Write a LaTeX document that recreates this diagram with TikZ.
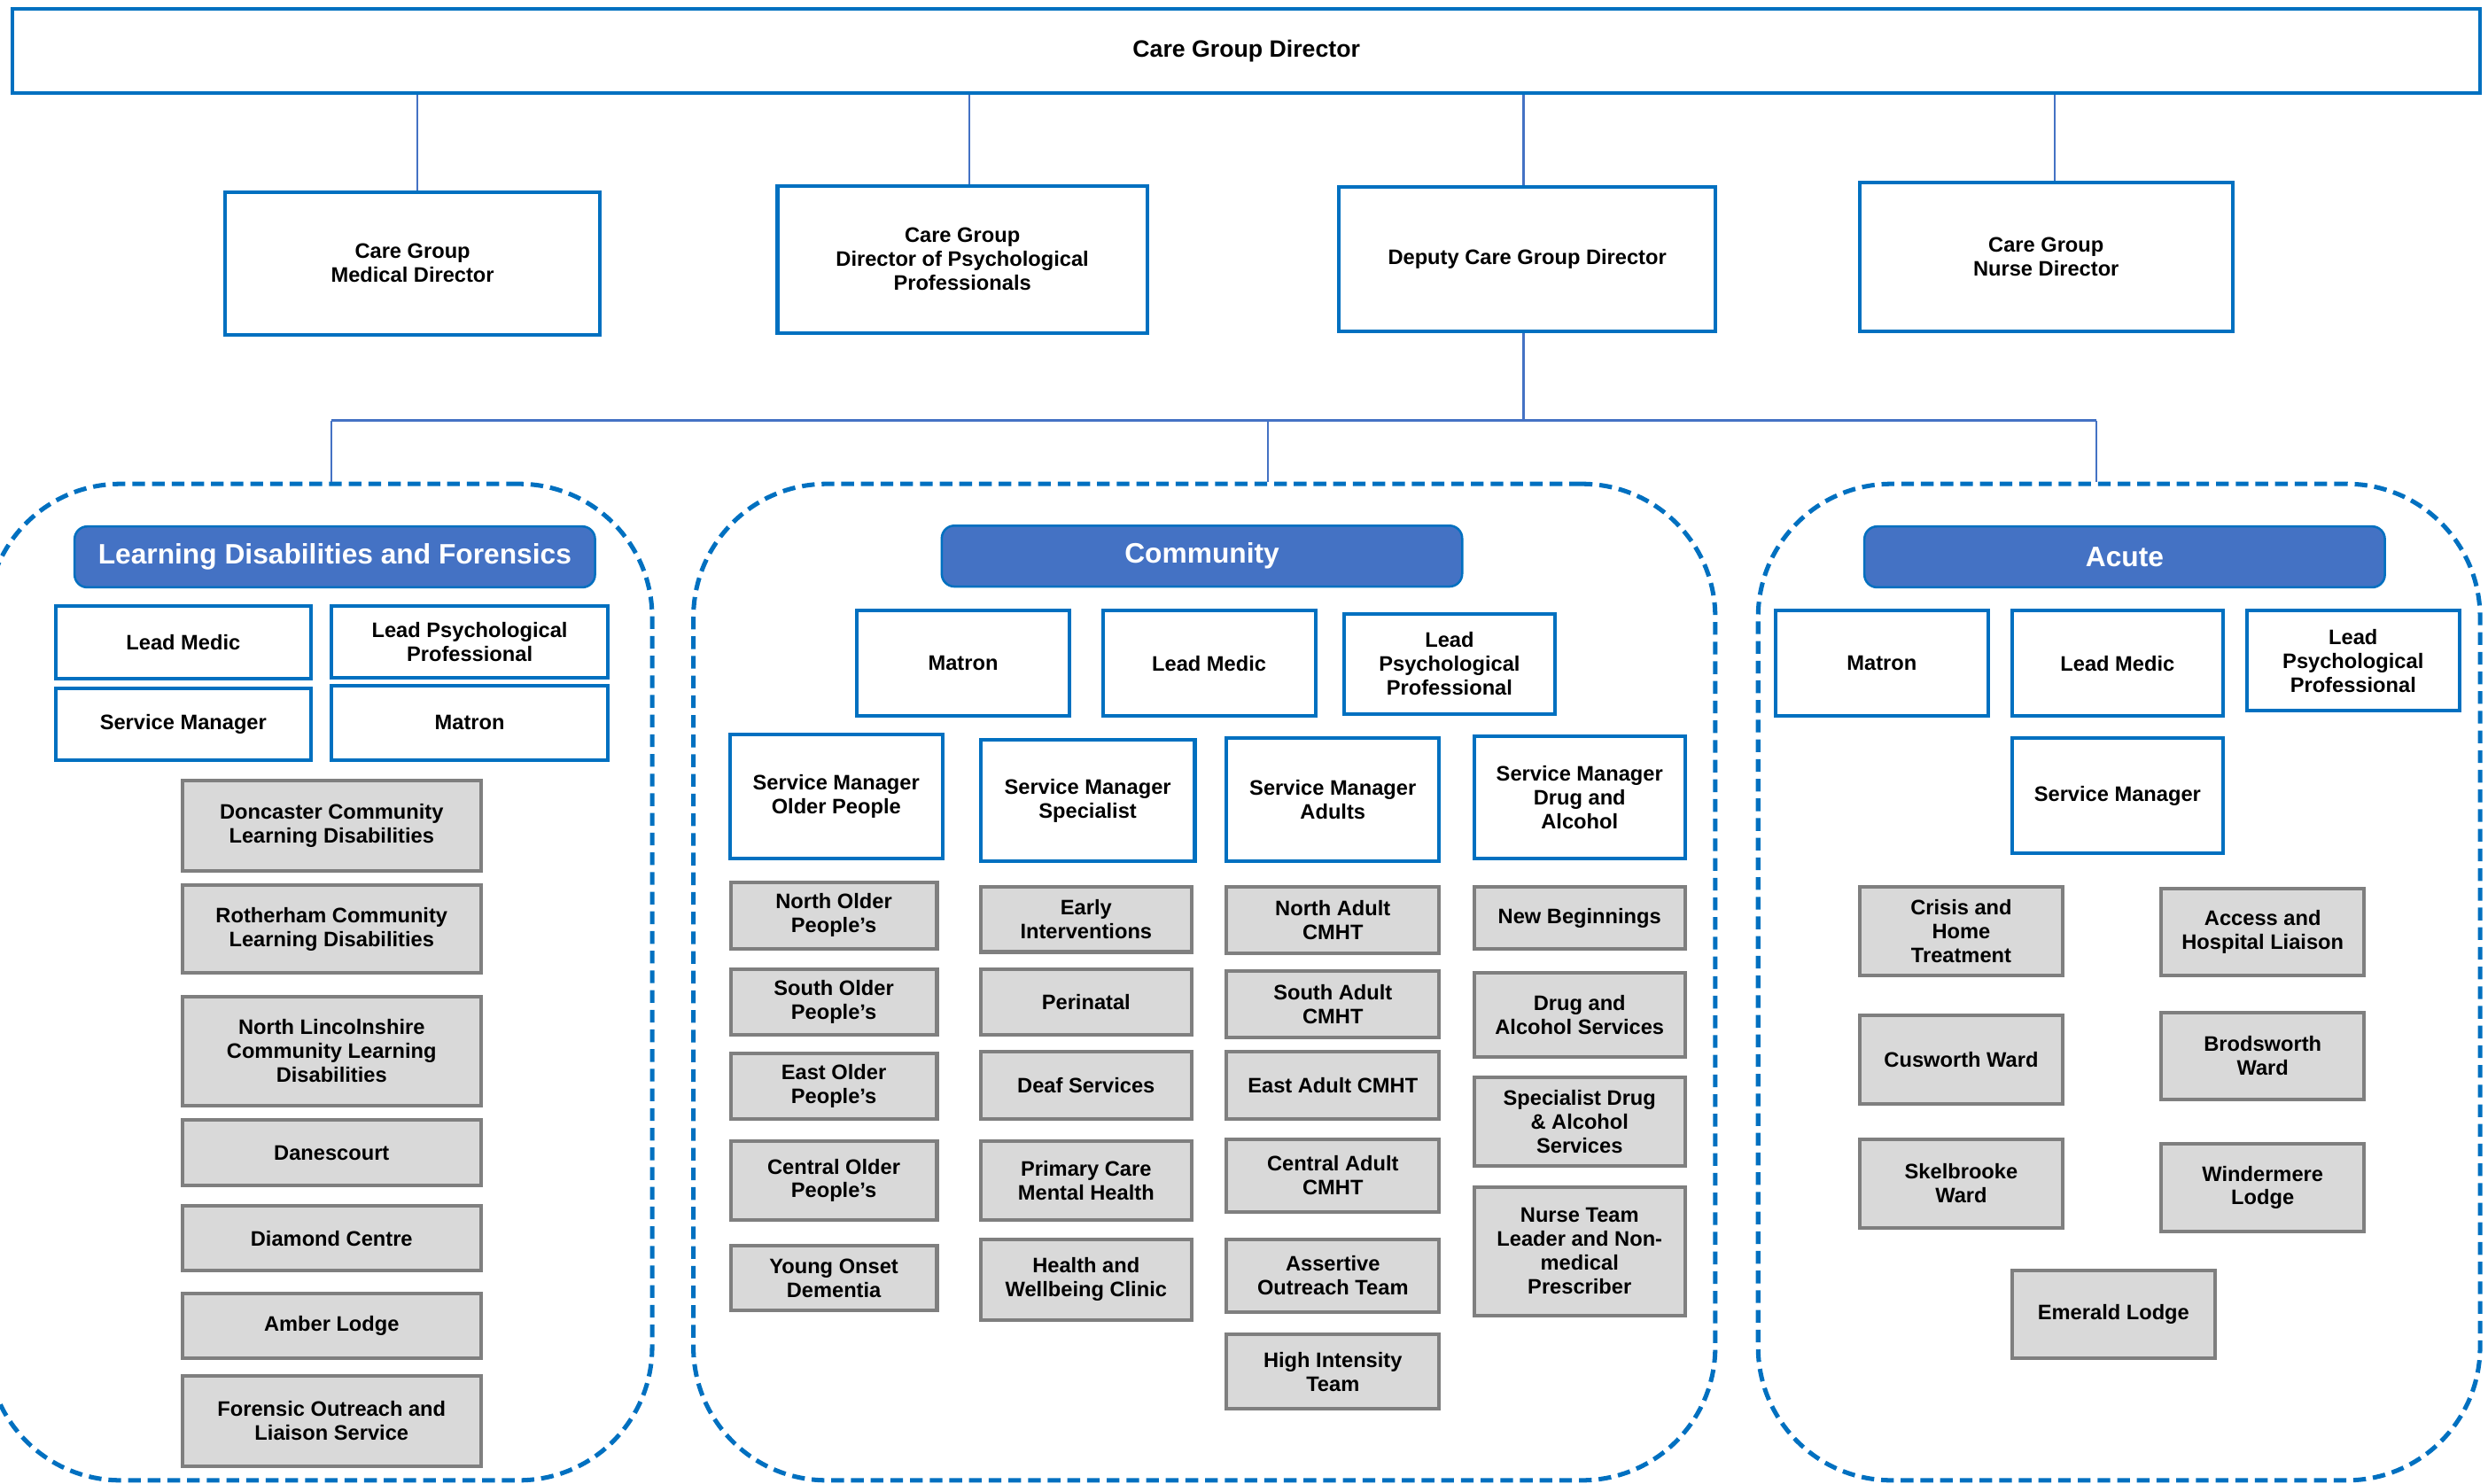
\documentclass[tikz,border=0pt]{standalone}
\usepackage{fontspec}
\setmainfont{Liberation Sans}
\definecolor{boxblue}{HTML}{0070C0}
\definecolor{headblue}{HTML}{4472C4}
\definecolor{unitgrey}{HTML}{D9D9D9}
\definecolor{edgegrey}{HTML}{7F7F7F}

\begin{document}
\begin{tikzpicture}[x=0.25mm,y=-0.25mm,
  every node/.style={font=\bfseries\fontsize{9.4}{10.7}\selectfont,align=center,inner sep=1pt},
  role/.style 2 args={draw=boxblue,line width=1.6pt,fill=white,minimum width=#1*0.25mm,minimum height=#2*0.25mm},
  unit/.style 2 args={draw=edgegrey,line width=1.6pt,fill=unitgrey,minimum width=#1*0.25mm,minimum height=#2*0.25mm},
  head/.style={draw=boxblue,line width=1pt,fill=headblue,text=white,rounded corners=2mm,minimum width=82mm,minimum height=9.6mm,font=\bfseries\fontsize{12.6}{14}\selectfont},
  group/.style 2 args={draw=boxblue,line width=2pt,dash pattern=on 2mm off 1.1mm,rounded corners=21mm,minimum width=#1*0.25mm,minimum height=#2*0.25mm},
  link/.style={draw=headblue,line width=0.9pt}]
\useasboundingbox (0,0) rectangle (1568,935);

% directors
\node[role={1555}{53},font=\bfseries\fontsize{10.6}{12}\selectfont] (cgd) at (785.5,32) {Care Group Director};
\node[role={236}{90}] (med) at (260,166) {Care Group\\Medical Director};
\node[role={233}{93}] (psy) at (606.5,163.5) {Care Group\\Director of Psychological\\Professionals};
\node[role={237}{91}] (dep) at (962.5,163.5) {Deputy Care Group Director};
\node[role={235}{94}] (nur) at (1289.5,162) {Care Group\\Nurse Director};

% care groups
\node[group={419}{628}] (ldf) at (201.5,619) {};
\node[group={644}{628}] (com) at (759,619) {};
\node[group={455}{628}] (acu) at (1335.5,619) {};
\coordinate (jl) at (209,265);
\coordinate (jc) at (799,265);
\coordinate (jr) at (1321,265);

\draw[link] ([xshift=0.75mm]med.north |- cgd.south) -- ([xshift=0.75mm]med.north);
\draw[link] ([xshift=1.1mm]psy.north |- cgd.south) -- ([xshift=1.1mm]psy.north);
\draw[link] ([xshift=-0.6mm]dep.north |- cgd.south) -- ([xshift=-0.6mm]dep.north);
\draw[link] ([xshift=1.4mm]nur.north |- cgd.south) -- ([xshift=1.4mm]nur.north);
\draw[link] ([xshift=-0.6mm]dep.south) -- ([xshift=-0.6mm]dep.south |- jl);
\draw[link] (jl) -- (jr);
\draw[link] (jl) -- (jl |- ldf.north);
\draw[link] (jc) -- (jc |- com.north);
\draw[link] (jr) -- (jr |- acu.north);

% learning disabilities and forensics
\node[head] (ldfh) at (211,351) {Learning Disabilities and Forensics};
\node[role={161}{46}] (ldfmed) at (115.5,405) {Lead Medic};
\node[role={174}{45}] (ldfpsy) at (296,404.5) {Lead Psychological\\Professional};
\node[role={161}{45}] (ldfsm) at (115.5,456.5) {Service Manager};
\node[role={174}{47}] (ldfmat) at (296,455.5) {Matron};
\node[unit={188}{57}] (don) at (209,520.5) {Doncaster Community\\Learning Disabilities};
\node[unit={188}{55}] (rot) at (209,585.5) {Rotherham Community\\Learning Disabilities};
\node[unit={188}{69}] (nlin) at (209,662.5) {North Lincolnshire\\Community Learning\\Disabilities};
\node[unit={188}{41}] (dane) at (209,726.5) {Danescourt};
\node[unit={188}{41}] (diam) at (209,780.5) {Diamond Centre};
\node[unit={188}{41}] (amb) at (209,835.5) {Amber Lodge};
\node[unit={188}{57}] (fols) at (209,895.5) {Forensic Outreach and\\Liaison Service};

% community
\node[head] (comh) at (757.5,350.5) {Community};
\node[role={134}{66}] (commat) at (607,418) {Matron};
\node[role={134}{66}] (commed) at (762,418) {Lead Medic};
\node[role={133}{63}] (compsy) at (913.5,418.5) {Lead\\Psychological\\Professional};
\node[role={134}{78}] (smop) at (527,502) {Service Manager\\Older People};
\node[role={135}{77}] (smsp) at (685.5,504.5) {Service Manager\\Specialist};
\node[role={134}{78}] (smad) at (840,504) {Service Manager\\Adults};
\node[role={133}{77}] (smda) at (995.5,502.5) {Service Manager\\Drug and\\Alcohol};

\node[unit={130}{42}] (nop) at (525.5,577) {North Older\\People’s};
\node[unit={130}{41}] (sop) at (525.5,631.5) {South Older\\People’s};
\node[unit={130}{41}] (eop) at (525.5,684.5) {East Older\\People’s};
\node[unit={130}{50}] (cop) at (525.5,744) {Central Older\\People’s};
\node[unit={130}{41}] (yod) at (525.5,805.5) {Young Onset\\Dementia};

\node[unit={133}{41}] (ei) at (684.5,579.5) {Early\\Interventions};
\node[unit={133}{41}] (peri) at (684.5,631.5) {Perinatal};
\node[unit={133}{42}] (deaf) at (684.5,684) {Deaf Services};
\node[unit={133}{50}] (pcmh) at (684.5,744) {Primary Care\\Mental Health};
\node[unit={133}{51}] (hwc) at (684.5,806.5) {Health and\\Wellbeing Clinic};

\node[unit={134}{42}] (nac) at (840,580) {North Adult\\CMHT};
\node[unit={134}{42}] (sac) at (840,633) {South Adult\\CMHT};
\node[unit={134}{42}] (eac) at (840,684) {East Adult CMHT};
\node[unit={134}{46}] (cac) at (840,741) {Central Adult\\CMHT};
\node[unit={134}{46}] (aot) at (840,804) {Assertive\\Outreach Team};
\node[unit={134}{47}] (hit) at (840,864.5) {High Intensity\\Team};

\node[unit={133}{39}] (newb) at (995.5,578.5) {New Beginnings};
\node[unit={133}{53}] (das) at (995.5,639.5) {Drug and\\Alcohol Services};
\node[unit={133}{56}] (sdas) at (995.5,707) {Specialist Drug\\\& Alcohol\\Services};
\node[unit={133}{81}] (ntl) at (995.5,788.5) {Nurse Team\\Leader and Non-\\medical\\Prescriber};

% acute
\node[head] (acuh) at (1339,351) {Acute};
\node[role={134}{66}] (acumat) at (1186,418) {Matron};
\node[role={133}{66}] (acumed) at (1334.5,418) {Lead Medic};
\node[role={134}{63}] (acupsy) at (1483,416.5) {Lead\\Psychological\\Professional};
\node[role={133}{73}] (acusm) at (1334.5,501.5) {Service Manager};
\node[unit={128}{56}] (cht) at (1236,587) {Crisis and\\Home\\Treatment};
\node[unit={128}{55}] (ahl) at (1426,587.5) {Access and\\Hospital Liaison};
\node[unit={128}{56}] (cus) at (1236,668) {Cusworth Ward};
\node[unit={128}{55}] (brod) at (1426,665.5) {Brodsworth\\Ward};
\node[unit={128}{56}] (skel) at (1236,746) {Skelbrooke\\Ward};
\node[unit={128}{55}] (wind) at (1426,748.5) {Windermere\\Lodge};
\node[unit={128}{55}] (emer) at (1332,828.5) {Emerald Lodge};
\end{tikzpicture}
\end{document}
